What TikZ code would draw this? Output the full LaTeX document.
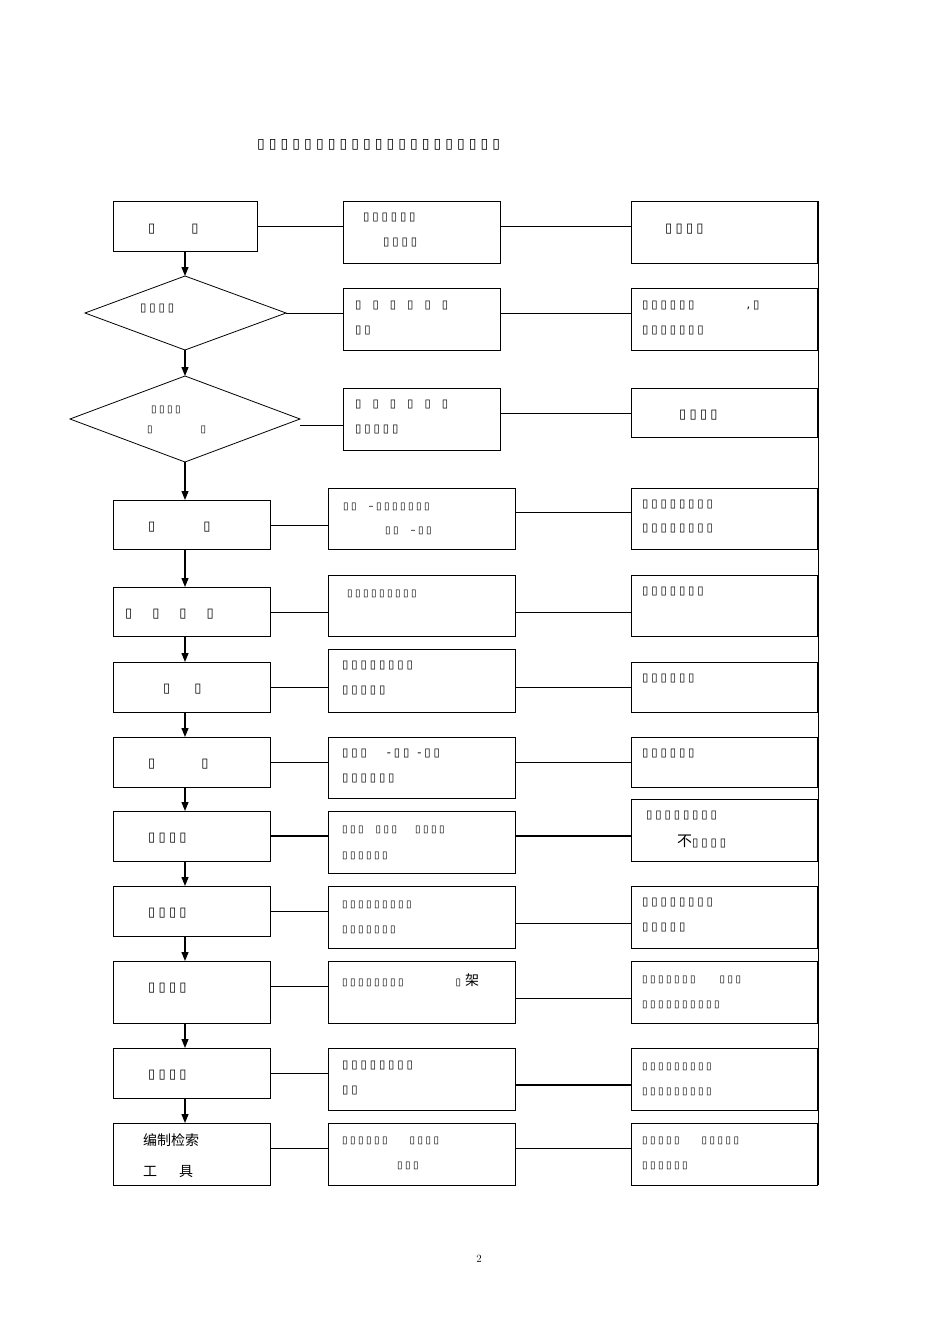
\documentclass[tikz,border=0pt]{standalone}
\usetikzlibrary{arrows.meta}
\usepackage{fontspec}
\newfontfamily\tofu[LetterSpace=25]{DejaVu Sans}
\newfontfamily\tofuT[LetterSpace=29]{DejaVu Sans}
\newfontfamily\cjk{Noto Sans CJK SC}
\begin{document}
\begin{tikzpicture}[x=1pt,y=-1pt,
  t/.style={anchor=west,inner sep=0,font=\fontsize{11.5}{12}\tofu},
  ln/.style={line width=0.6pt},
  ar/.style={line width=1.2pt,-{Triangle[length=9pt,width=7pt]}}]
\useasboundingbox (0,0) rectangle (950,1344);
\def\B#1#2#3#4#5{\node[draw,line width=0.8pt,inner sep=0,minimum width={#3-#1},minimum height={#4-#2},anchor=north west] (#5) at (#1,#2) {};}
% left column
\B{113}{201}{257}{251}{L1}
\coordinate (L2n) at (185,276); \coordinate (L2s) at (185,350); \coordinate (L2e) at (286,313); \coordinate (L2w) at (85,313);
\draw[line width=0.8pt] (L2n) -- (L2e) -- (L2s) -- (L2w) -- cycle;
\coordinate (L3n) at (185,376); \coordinate (L3s) at (185,462); \coordinate (L3e) at (300,419); \coordinate (L3w) at (70,419);
\draw[line width=0.8pt] (L3n) -- (L3e) -- (L3s) -- (L3w) -- cycle;
\B{113}{500}{270}{549}{L4}
\B{113}{587}{270}{636}{L5}
\B{113}{662}{270}{712}{L6}
\B{113}{737}{270}{787}{L7}
\B{113}{811}{270}{861}{L8}
\B{113}{886}{270}{936}{L9}
\B{113}{961}{270}{1023}{L10}
\B{113}{1048}{270}{1098}{L11}
\B{113}{1123}{270}{1185}{L12}
% middle
\B{343}{201}{500}{263}{M1}
\B{343}{288}{500}{350}{M2}
\B{343}{388}{500}{450}{M3}
\B{328}{488}{515}{549}{M4}
\B{328}{575}{515}{636}{M5}
\B{328}{649}{515}{712}{M6}
\B{328}{737}{515}{798}{M7}
\B{328}{811}{515}{873}{M8}
\B{328}{886}{515}{948}{M9}
\B{328}{961}{515}{1023}{M10}
\B{328}{1048}{515}{1110}{M11}
\B{328}{1123}{515}{1185}{M12}
% right
\B{631}{201}{817}{263}{R1}
\B{631}{288}{817}{350}{R2}
\B{631}{388}{817}{437}{R3}
\B{631}{488}{817}{549}{R4}
\B{631}{575}{817}{636}{R5}
\B{631}{662}{817}{712}{R6}
\B{631}{737}{817}{787}{R7}
\B{631}{799}{817}{861}{R8}
\B{631}{886}{817}{948}{R9}
\B{631}{961}{817}{1023}{R10}
\B{631}{1048}{817}{1110}{R11}
\B{631}{1123}{817}{1185}{R12}
\coordinate (rt) at (818,201); \coordinate (rb) at (818,1185);
\draw[line width=0.8pt] (rt) -- (rb);
% vertical arrows
\draw[ar] (185,251) -- (L2n);
\draw[ar] (L2s) -- (L3n);
\draw[ar] (L3s) -- (185,500);
\foreach \a/\b in {L4/L5,L5/L6,L6/L7,L7/L8,L8/L9,L9/L10,L10/L11,L11/L12}
  \draw[ar] (\a.south-|185,0) -- (\b.north-|185,0);
% horizontal connectors
\draw[ln] (L1.east|-0,226) -- (M1.west|-0,226); \draw[ln] (M1.east|-0,226) -- (R1.west|-0,226);
\draw[ln] (L2e) -- (M2.west|-0,313); \draw[ln] (M2.east|-0,313) -- (R2.west|-0,313);
\draw[ln] (L3e|-0,425) -- (M3.west|-0,425); \draw[ln] (M3.east|-0,413) -- (R3.west|-0,413);
\draw[ln] (L4.east|-0,525) -- (M4.west|-0,525); \draw[ln] (M4.east|-0,512) -- (R4.west|-0,512);
\draw[ln] (L5.east|-0,612) -- (M5.west|-0,612); \draw[ln] (M5.east|-0,612) -- (R5.west|-0,612);
\draw[ln] (L6.east|-0,687) -- (M6.west|-0,687); \draw[ln] (M6.east|-0,687) -- (R6.west|-0,687);
\draw[ln] (L7.east|-0,762) -- (M7.west|-0,762); \draw[ln] (M7.east|-0,762) -- (R7.west|-0,762);
\draw[line width=1.5pt] (L8.east|-0,836) -- (M8.west|-0,836); \draw[line width=1.5pt] (M8.east|-0,836) -- (R8.west|-0,836);
\draw[ln] (L9.east|-0,911) -- (M9.west|-0,911); \draw[ln] (M9.east|-0,923) -- (R9.west|-0,923);
\draw[ln] (L10.east|-0,986) -- (M10.west|-0,986); \draw[ln] (M10.east|-0,998) -- (R10.west|-0,998);
\draw[ln] (L11.east|-0,1073) -- (M11.west|-0,1073); \draw[line width=1.5pt] (M11.east|-0,1085) -- (R11.west|-0,1085);
\draw[ln] (L12.east|-0,1148) -- (M12.west|-0,1148); \draw[ln] (M12.east|-0,1148) -- (R12.west|-0,1148);
% texts
\node[t,font=\fontsize{14}{15}\tofuT] (title) at (257,145) {▯▯▯▯▯▯▯▯▯▯▯▯▯▯▯▯▯▯▯▯▯};
\node[t,font=\fontsize{13}{14}\tofu] (a1) at (148,229) {▯\hspace{36pt}▯};
\node[t] (b1) at (363,218) {▯▯▯▯▯▯};
\node[t] (b1b) at (383,243) {▯▯▯▯};
\node[t,font=\fontsize{13}{14}\tofu] (c1) at (665,229) {▯▯▯▯};
\node[t] (a2) at (140,309) {▯▯▯▯};
\node[t] (b2) at (355,306) {▯\hspace{11pt}▯\hspace{11pt}▯\hspace{11pt}▯\hspace{11pt}▯\hspace{11pt}▯};
\node[t] (b2b) at (355,331) {▯▯};
\node[t] (c2) at (642,306) {▯▯▯▯▯▯\hspace{52pt},▯};
\node[t] (c2b) at (642,331) {▯▯▯▯▯▯▯};
\node[t,font=\fontsize{10}{11}\tofu] (a3) at (151,410) {▯▯▯▯};
\node[t,font=\fontsize{10}{11}\tofu] (a3b) at (147,430) {▯\hspace{48pt}▯};
\node[t] (b3) at (355,405) {▯\hspace{11pt}▯\hspace{11pt}▯\hspace{11pt}▯\hspace{11pt}▯\hspace{11pt}▯};
\node[t] (b3b) at (355,430) {▯▯▯▯▯};
\node[t,font=\fontsize{13}{14}\tofu] (c3) at (679,415) {▯▯▯▯};
\node[t,font=\fontsize{13}{14}\tofu] (a4) at (148,527) {▯\hspace{48pt}▯};
\node[t,font=\fontsize{10}{11}\tofu] (b4) at (343,507) {▯▯\hspace{12pt}–▯▯▯▯▯▯▯};
\node[t,font=\fontsize{10}{11}\tofu] (b4b) at (385,531) {▯▯\hspace{12pt}–▯▯};
\node[t] (c4) at (642,505) {▯▯▯▯▯▯▯▯};
\node[t] (c4b) at (642,529) {▯▯▯▯▯▯▯▯};
\node[t,font=\fontsize{13}{14}\tofu] (a5) at (125,614) {▯\hspace{20pt}▯\hspace{20pt}▯\hspace{20pt}▯};
\node[t,font=\fontsize{10}{11}\tofu] (b5) at (347,594) {▯▯▯▯▯▯▯▯▯};
\node[t] (c5) at (642,592) {▯▯▯▯▯▯▯};
\node[t,font=\fontsize{13}{14}\tofu] (a6) at (163,689) {▯\hspace{24pt}▯};
\node[t] (b6) at (342,666) {▯▯▯▯▯▯▯▯};
\node[t] (b6b) at (342,691) {▯▯▯▯▯};
\node[t] (c6) at (642,679) {▯▯▯▯▯▯};
\node[t,font=\fontsize{13}{14}\tofu] (a7) at (148,764) {▯\hspace{46pt}▯};
\node[t] (b7) at (342,754) {▯▯▯\hspace{20pt}-▯▯\hspace{8pt}-▯▯};
\node[t] (b7b) at (342,779) {▯▯▯▯▯▯};
\node[t] (c7) at (642,754) {▯▯▯▯▯▯};
\node[t,font=\fontsize{13}{14}\tofu] (a8) at (148,838) {▯▯▯▯};
\node[t,font=\fontsize{10}{11}\tofu] (b8) at (342,830) {▯▯▯\hspace{12pt}▯▯▯\hspace{18pt}▯▯▯▯};
\node[t,font=\fontsize{10}{11}\tofu] (b8b) at (342,856) {▯▯▯▯▯▯};
\node[t] (c8) at (646,816) {▯▯▯▯▯▯▯▯};
\node[t] (c8b) at (677,841) {{\cjk\fontsize{15}{16}\selectfont 不}▯▯▯▯};
\node[t,font=\fontsize{13}{14}\tofu] (a9) at (148,913) {▯▯▯▯};
\node[t,font=\fontsize{10}{11}\tofu] (b9) at (342,905) {▯▯▯▯▯▯▯▯▯};
\node[t,font=\fontsize{10}{11}\tofu] (b9b) at (342,930) {▯▯▯▯▯▯▯};
\node[t] (c9) at (642,903) {▯▯▯▯▯▯▯▯};
\node[t] (c9b) at (642,928) {▯▯▯▯▯};
\node[t,font=\fontsize{13}{14}\tofu] (a10) at (148,988) {▯▯▯▯};
\node[t,font=\fontsize{10}{11}\tofu] (b10) at (342,980) {▯▯▯▯▯▯▯▯\hspace{52pt}▯\hspace{4pt}{\cjk\fontsize{14}{15}\selectfont 架}};
\node[t,font=\fontsize{10}{11}\tofu] (c10) at (642,980) {▯▯▯▯▯▯▯\hspace{24pt}▯▯▯};
\node[t,font=\fontsize{10}{11}\tofu] (c10b) at (642,1005) {▯▯▯▯▯▯▯▯▯▯};
\node[t,font=\fontsize{13}{14}\tofu] (a11) at (148,1075) {▯▯▯▯};
\node[t] (b11) at (342,1065) {▯▯▯▯▯▯▯▯};
\node[t] (b11b) at (342,1090) {▯▯};
\node[t,font=\fontsize{10}{11}\tofu] (c11) at (642,1067) {▯▯▯▯▯▯▯▯▯};
\node[t,font=\fontsize{10}{11}\tofu] (c11b) at (642,1092) {▯▯▯▯▯▯▯▯▯};
\node[anchor=west,inner sep=0,font=\fontsize{14}{15}\cjk] (a12) at (143,1140) {编制检索};
\node[anchor=west,inner sep=0,font=\fontsize{14}{15}\cjk] (a12b) at (143,1172) {工\hspace{22pt}具};
\node[t,font=\fontsize{10}{11}\tofu] (b12) at (342,1141) {▯▯▯▯▯▯\hspace{22pt}▯▯▯▯};
\node[t,font=\fontsize{10}{11}\tofu] (b12b) at (397,1166) {▯▯▯};
\node[t,font=\fontsize{10}{11}\tofu] (c12) at (642,1141) {▯▯▯▯▯\hspace{22pt}▯▯▯▯▯};
\node[t,font=\fontsize{10}{11}\tofu] (c12b) at (642,1166) {▯▯▯▯▯▯};
\node[inner sep=0,font=\fontsize{11}{12}\selectfont] (pg) at (479,1259) {2};
\end{tikzpicture}
\end{document}
